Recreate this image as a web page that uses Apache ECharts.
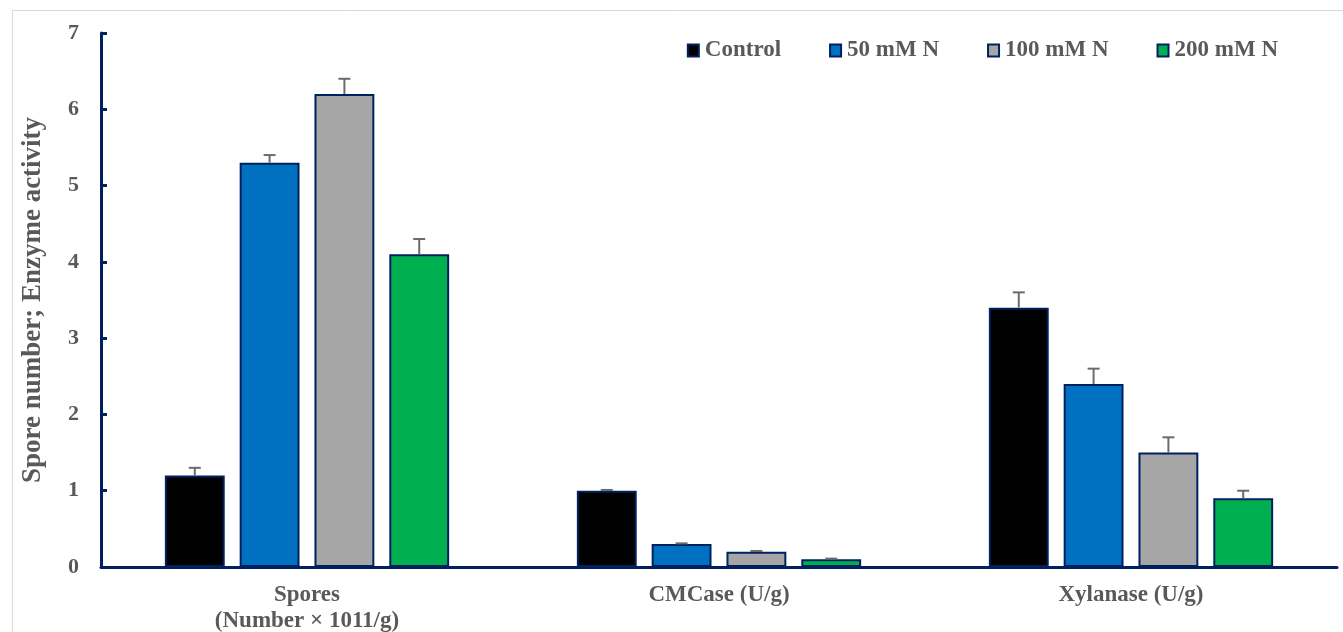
<!DOCTYPE html>
<html>
<head>
<meta charset="utf-8">
<script src="https://cdn.jsdelivr.net/npm/echarts@6/dist/echarts.min.js"></script>
<style>
html,body{margin:0;padding:0;background:#fff;}
#chart{width:1343px;height:632px;}
</style>
</head>
<body>
<div id="chart"></div>
<script>
const categories = ['Spores\n(Number × 1011/g)', 'CMCase (U/g)', 'Xylanase (U/g)'];
const seriesNames = ['Control', '50 mM N', '100 mM N', '200 mM N'];
const control = [1.2, 1.0, 3.4];
const mM50 = [5.3, 0.3, 2.4];
const mM100 = [6.2, 0.2, 1.5];
const mM200 = [4.1, 0.1, 0.9];
const errControl = [0.1, 0.01, 0.2];
const err50 = [0.1, 0.01, 0.2];
const err100 = [0.2, 0.01, 0.2];
const err200 = [0.2, 0.01, 0.1];
const yTicks = [0, 1, 2, 3, 4, 5, 6, 7];

const values = [control, mM50, mM100, mM200];
const errors = [errControl, err50, err100, err200];
const colors = ['#000000', '#0070C0', '#A6A6A6', '#00B050'];
const navy = '#002060';
const textGray = '#595959';
const font = '"Liberation Serif", "Times New Roman", serif';
const BAR_GAP = '25%';
const CAT_GAP = '31%';

const chart = echarts.init(document.getElementById('chart'));

const barSeries = seriesNames.map((name, i) => ({
  name: name,
  type: 'bar',
  data: values[i],
  barGap: BAR_GAP,
  barCategoryGap: CAT_GAP,
  itemStyle: { color: colors[i], borderColor: navy, borderWidth: 2 },
  z: 2
}));

const errSeries = seriesNames.map((name, i) => ({
  name: 'err_' + name,
  type: 'custom',
  z: 3,
  data: values[i].map((v, k) => [k, v, errors[i][k]]),
  renderItem: function (params, api) {
    const cat = api.value(0);
    const v = api.value(1);
    const e = api.value(2);
    const layout = api.barLayout({ barGap: BAR_GAP, barCategoryGap: CAT_GAP, count: 4 });
    const off = layout[i].offsetCenter;
    const base = api.coord([cat, v]);
    const top = api.coord([cat, v + e]);
    const x = base[0] + off;
    const half = 6;
    const style = { stroke: '#6b6b6b', lineWidth: 2 };
    return {
      type: 'group',
      children: [
        { type: 'line', shape: { x1: x, y1: base[1], x2: x, y2: top[1] }, style: style },
        { type: 'line', shape: { x1: x - half, y1: top[1], x2: x + half, y2: top[1] }, style: style }
      ]
    };
  }
}));

chart.setOption({
  animation: false,
  backgroundColor: '#ffffff',
  graphic: [{
    type: 'rect', left: 10, top: 8, z: -10,
    shape: { width: 1400, height: 700 },
    style: { fill: 'none', stroke: '#d9d9d9', lineWidth: 1 }
  }],
  grid: { left: 101, right: 6, top: 33, bottom: 65, containLabel: false, outerBoundsMode: 'none' },
  legend: {
    data: seriesNames,
    right: 60,
    top: 34,
    icon: 'rect',
    itemWidth: 11,
    itemHeight: 12,
    itemGap: 48,
    textStyle: { fontFamily: font, fontWeight: 'bold', fontSize: 23, color: textGray, padding: [0, 0, 0, 1] }
  },
  xAxis: {
    type: 'category',
    data: categories,
    axisLine: { lineStyle: { color: navy, width: 3 } },
    axisTick: { show: false },
    axisLabel: {
      fontFamily: font, fontWeight: 'bold', fontSize: 23, color: textGray,
      margin: 15, lineHeight: 26, interval: 0
    }
  },
  yAxis: {
    type: 'value',
    min: yTicks[0],
    max: yTicks[yTicks.length - 1],
    interval: 1,
    name: 'Spore number; Enzyme activity',
    nameLocation: 'middle',
    nameGap: 54,
    nameRotate: 90,
    nameTextStyle: { fontFamily: font, fontWeight: 'bold', fontSize: 27, color: textGray },
    axisLine: { show: true, lineStyle: { color: navy, width: 3 } },
    axisTick: { show: true, inside: true, length: 6, lineStyle: { color: navy, width: 3 } },
    splitLine: { show: false },
    axisLabel: { fontFamily: font, fontWeight: 'bold', fontSize: 22, color: textGray, margin: 22 }
  },
  series: barSeries.concat(errSeries)
});
</script>
</body>
</html>
